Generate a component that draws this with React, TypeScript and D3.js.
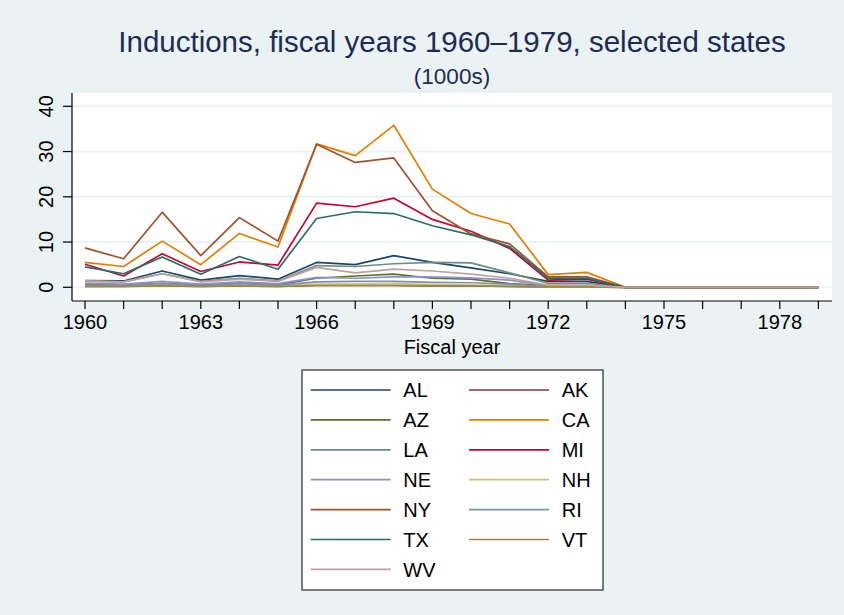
import React, { useEffect } from "react";
import * as d3 from "d3";

const years = d3.range(1960, 1980);
const xTicks = [1960, 1963, 1966, 1969, 1972, 1975, 1978];
const yTicks = [0, 10, 20, 30, 40];

const states = ["AL", "AK", "AZ", "CA", "LA", "MI", "NE", "NH", "NY", "RI", "TX", "VT", "WV"];

const AL = [1.5, 1.4, 3.6, 1.6, 2.6, 1.8, 5.5, 5.0, 7.0, 5.5, 4.3, 3.0, 1.3, 1.3, 0, 0, 0, 0, 0, 0];
const AK = [0.2, 0.2, 0.3, 0.2, 0.3, 0.2, 0.4, 0.4, 0.4, 0.3, 0.3, 0.2, 0.1, 0.1, 0, 0, 0, 0, 0, 0];
const AZ = [0.6, 0.5, 0.9, 0.5, 0.9, 0.6, 2.0, 2.5, 2.9, 2.0, 1.8, 0.8, 0.4, 0.4, 0, 0, 0, 0, 0, 0];
const CA = [5.5, 4.6, 10.2, 5.0, 11.9, 8.9, 31.7, 29.1, 35.8, 21.7, 16.3, 14.0, 2.8, 3.3, 0, 0, 0, 0, 0, 0];
const LA = [1.3, 1.2, 3.0, 1.3, 2.0, 1.4, 4.8, 4.6, 5.2, 5.5, 5.4, 3.2, 0.9, 0.9, 0, 0, 0, 0, 0, 0];
const MI = [5.1, 2.5, 7.4, 3.5, 5.6, 4.9, 18.6, 17.8, 19.7, 15.0, 12.4, 8.6, 1.6, 1.8, 0, 0, 0, 0, 0, 0];
const NE = [0.9, 0.7, 1.3, 0.7, 1.2, 0.8, 2.2, 2.0, 2.3, 2.3, 2.1, 1.6, 0.3, 0.3, 0, 0, 0, 0, 0, 0];
const NH = [0.3, 0.3, 0.5, 0.3, 0.5, 0.3, 0.7, 0.7, 0.8, 0.6, 0.5, 0.4, 0.1, 0.1, 0, 0, 0, 0, 0, 0];
const NY = [8.7, 6.3, 16.6, 7.0, 15.4, 10.2, 31.6, 27.6, 28.6, 16.9, 11.8, 9.6, 2.3, 2.3, 0, 0, 0, 0, 0, 0];
const RI = [0.5, 0.4, 0.8, 0.4, 0.8, 0.5, 1.2, 1.3, 1.3, 1.1, 1.0, 0.7, 0.2, 0.2, 0, 0, 0, 0, 0, 0];
const TX = [4.5, 3.0, 6.7, 2.9, 6.8, 4.0, 15.2, 16.7, 16.3, 13.6, 11.6, 9.0, 2.0, 2.0, 0, 0, 0, 0, 0, 0];
const VT = [0.2, 0.2, 0.3, 0.2, 0.3, 0.2, 0.4, 0.4, 0.4, 0.3, 0.3, 0.2, 0.1, 0.1, 0, 0, 0, 0, 0, 0];
const WV = [1.4, 1.2, 3.0, 1.2, 1.8, 1.3, 4.4, 3.2, 4.0, 3.6, 2.9, 2.0, 0.5, 0.5, 0, 0, 0, 0, 0, 0];

const seriesValues = [AL, AK, AZ, CA, LA, MI, NE, NH, NY, RI, TX, VT, WV];
const colors = [
  "#1a476f", "#90353b", "#55752f", "#e37e00", "#6e8e84", "#c10534", "#938dd2",
  "#cac27e", "#a0522d", "#7b92a8", "#2d6d66", "#9c8847", "#bfa19c",
];

const W = 844;
const H = 615;
const BG = "#eaf2f3";
const FONT = "'Liberation Sans', Arial, Helvetica, sans-serif";
const TITLE_COLOR = "#1e2c53";

export default function App() {
  useEffect(() => {
    document.body.style.margin = "0";
  }, []);

  const plotLeft = 72;
  const plotRight = 832;
  const plotTop = 93;
  const plotBottom = 301;

  const x = d3.scaleLinear().domain([1960, 1979]).range([85, 818.4]);
  const y = d3.scaleLinear().domain([0, 40]).range([287.3, 106.3]);

  const line = d3
    .line<number>()
    .x((_, i) => x(years[i]))
    .y((d) => y(d));

  const legendLeft = 302;
  const legendTop = 370;
  const legendW = 301;
  const legendH = 220;
  const rowH = 29.9;

  return (
    <svg
      width={W}
      height={H}
      style={{ position: "absolute", left: 0, top: 0, display: "block" }}
      fontFamily={FONT}
    >
      <rect x={0} y={0} width={W} height={H} fill={BG} />
      <rect x={plotLeft} y={plotTop} width={plotRight - plotLeft} height={plotBottom - plotTop} fill="#ffffff" />

      <text x={452} y={52} textAnchor="middle" fontSize={29.5} fill={TITLE_COLOR}>
        Inductions, fiscal years 1960–1979, selected states
      </text>
      <text x={452} y={84} textAnchor="middle" fontSize={22.5} fill={TITLE_COLOR}>
        (1000s)
      </text>

      {yTicks.map((t) => (
        <line key={"g" + t} x1={plotLeft} x2={plotRight} y1={y(t)} y2={y(t)} stroke={BG} strokeWidth={2} />
      ))}

      {seriesValues.map((vals, i) => (
        <path key={states[i]} d={line(vals) || ""} fill="none" stroke={colors[i]} strokeWidth={1.7} strokeLinejoin="round" />
      ))}

      <line x1={plotLeft} x2={plotLeft} y1={plotTop} y2={plotBottom} stroke="#000" strokeWidth={1.2} />
      <line x1={plotLeft} x2={plotRight} y1={plotBottom} y2={plotBottom} stroke="#000" strokeWidth={1.2} />

      {yTicks.map((t) => (
        <g key={"yt" + t}>
          <line x1={63} x2={plotLeft} y1={y(t)} y2={y(t)} stroke="#000" strokeWidth={1.2} />
          <text
            transform={`translate(53,${y(t)}) rotate(-90)`}
            textAnchor="middle"
            fontSize={20}
            fill="#000"
          >
            {t}
          </text>
        </g>
      ))}

      {years.map((yr) => (
        <line key={"xt" + yr} x1={x(yr)} x2={x(yr)} y1={plotBottom} y2={plotBottom + 8} stroke="#000" strokeWidth={1.2} />
      ))}
      {xTicks.map((yr) => (
        <text key={"xl" + yr} x={x(yr)} y={329} textAnchor="middle" fontSize={20} fill="#000">
          {yr}
        </text>
      ))}
      <text x={452} y={354} textAnchor="middle" fontSize={20} fill="#000">
        Fiscal year
      </text>

      <rect x={legendLeft} y={legendTop} width={legendW} height={legendH} fill="#ffffff" stroke="#000" strokeWidth={1} />
      {states.map((s, i) => {
        const col = i % 2;
        const row = Math.floor(i / 2);
        const ly = 390 + row * rowH;
        const lx = col === 0 ? 310.7 : 469;
        const tx = col === 0 ? 403.3 : 561.7;
        return (
          <g key={"lg" + s}>
            <line x1={lx} x2={lx + 80} y1={ly} y2={ly} stroke={colors[i]} strokeWidth={1.7} />
            <text x={tx} y={ly + 7.3} fontSize={20} fill="#000">
              {s}
            </text>
          </g>
        );
      })}
    </svg>
  );
}
